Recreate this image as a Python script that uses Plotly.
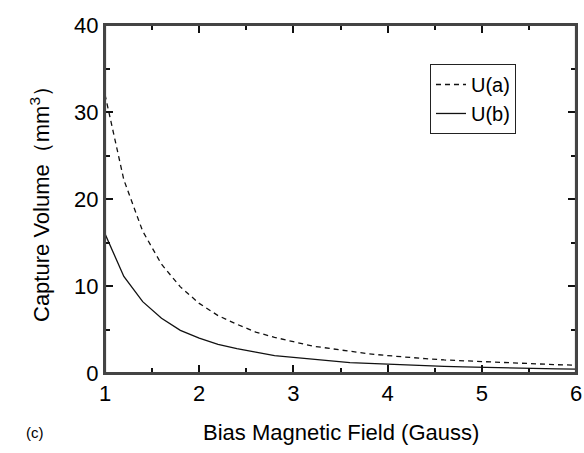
import plotly.graph_objects as go

field_gauss = [1.0, 1.2, 1.4, 1.6, 1.8, 2.0, 2.2, 2.4, 2.6, 2.8, 3.0, 3.2, 3.4,
               3.6, 3.8, 4.0, 4.2, 4.4, 4.6, 4.8, 5.0, 5.2, 5.4, 5.6, 5.8, 6.0]
u_a = [32.0, 22.2, 16.3, 12.5, 9.9, 8.0, 6.6, 5.6, 4.7, 4.1, 3.6, 3.1, 2.8,
       2.5, 2.2, 2.0, 1.8, 1.65, 1.5, 1.4, 1.3, 1.2, 1.1, 1.0, 0.95, 0.9]
u_b = [16.0, 11.1, 8.2, 6.3, 4.9, 4.0, 3.3, 2.8, 2.4, 2.0, 1.8, 1.6, 1.4,
       1.2, 1.1, 1.0, 0.9, 0.83, 0.76, 0.7, 0.64, 0.59, 0.55, 0.51, 0.48, 0.44]

x_ticks = [1, 2, 3, 4, 5, 6]
y_ticks = [0, 10, 20, 30, 40]
x_minor = [1.5, 2.5, 3.5, 4.5, 5.5]
y_minor = [5, 15, 25, 35]

FONT = "Liberation Sans, Arial, sans-serif"
AX = "#444444"
TK = "#111111"

fig = go.Figure()
fig.add_trace(go.Scatter(x=field_gauss, y=u_a, mode="lines", name="U(a)",
                         line=dict(color="#111111", width=1.3, dash="5px,4px")))
fig.add_trace(go.Scatter(x=field_gauss, y=u_b, mode="lines", name="U(b)",
                         line=dict(color="#111111", width=1.3)))

axis_common = dict(
    showline=True, linecolor=AX, linewidth=2, mirror="allticks",
    ticks="inside", ticklen=8, tickwidth=2, tickcolor=TK,
    showgrid=False, zeroline=False, automargin=False, layer="above traces",
    tickfont=dict(family=FONT, size=22, color="#000000"),
)

fig.update_xaxes(range=[1, 6], tickvals=x_ticks, ticktext=[str(v) for v in x_ticks],
                 minor=dict(tickvals=x_minor, ticks="inside", ticklen=5,
                            tickcolor=TK, tickwidth=2),
                 **axis_common)
fig.update_yaxes(range=[0, 40], tickvals=y_ticks, ticktext=[str(v) for v in y_ticks],
                 minor=dict(tickvals=y_minor, ticks="inside", ticklen=5,
                            tickcolor=TK, tickwidth=2),
                 **axis_common)

# plot frame
fig.add_shape(type="rect", xref="paper", yref="paper", x0=0, y0=0, x1=1, y1=1,
              line=dict(color=AX, width=2.2), fillcolor="rgba(0,0,0,0)", layer="above")

fig.add_annotation(text="Bias Magnetic Field (Gauss)", xref="paper", yref="paper",
                   x=0.5, y=-0.17, xanchor="center", yanchor="middle", showarrow=False,
                   font=dict(family=FONT, size=22, color="#000000"))
fig.add_annotation(text="Capture Volume（mm<sup>3</sup>）", xref="paper", yref="paper",
                   x=-0.138, y=0.5, xanchor="center", yanchor="middle", textangle=-90,
                   showarrow=False, font=dict(family=FONT, size=22, color="#000000"))
fig.add_annotation(text="(c)", xref="paper", yref="paper", x=-0.149, y=-0.172,
                   xanchor="center", yanchor="middle", showarrow=False,
                   font=dict(family=FONT, size=15, color="#000000"))

fig.update_layout(
    width=584, height=453,
    margin=dict(l=105, r=8, t=25, b=80),
    paper_bgcolor="white", plot_bgcolor="white",
    showlegend=True,
    legend=dict(x=0.69, y=0.888, xanchor="left", yanchor="top",
                bgcolor="white", bordercolor="#222222", borderwidth=1,
                font=dict(family=FONT, size=20, color="#000000"),
                tracegroupgap=0, itemwidth=30),
)

fig.write_html("out.html", config={"displayModeBar": False},
               post_script="document.body.style.margin='0';document.body.style.overflow='hidden';")
